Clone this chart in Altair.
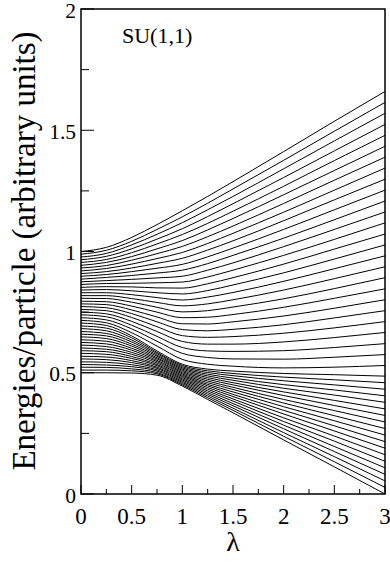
import altair as alt
import pandas as pd

# control parameter samples
LAMBDA = [0.0, 0.25, 0.5, 0.75, 1.0, 1.25, 1.5, 2.0, 2.5, 3.0]

# energies/particle of the 45 levels (lowest first) read at each lambda
E_000 = [0.500, 0.511, 0.523, 0.534, 0.545, 0.557, 0.568, 0.580, 0.591, 0.602,
         0.614, 0.625, 0.636, 0.648, 0.659, 0.670, 0.682, 0.693, 0.705, 0.716,
         0.727, 0.739, 0.750, 0.761, 0.773, 0.784, 0.795, 0.807, 0.818, 0.830,
         0.841, 0.852, 0.864, 0.875, 0.886, 0.898, 0.909, 0.920, 0.932, 0.943,
         0.955, 0.966, 0.977, 0.989, 1.000]
E_025 = [0.500, 0.511, 0.522, 0.532, 0.543, 0.554, 0.565, 0.576, 0.587, 0.597,
         0.608, 0.619, 0.630, 0.641, 0.652, 0.662, 0.673, 0.684, 0.695, 0.706,
         0.718, 0.731, 0.743, 0.756, 0.768, 0.781, 0.793, 0.806, 0.818, 0.830,
         0.843, 0.855, 0.868, 0.880, 0.893, 0.905, 0.917, 0.930, 0.942, 0.955,
         0.967, 0.980, 0.992, 1.005, 1.017]
E_050 = [0.499, 0.508, 0.516, 0.525, 0.533, 0.542, 0.550, 0.559, 0.567, 0.576,
         0.584, 0.593, 0.601, 0.610, 0.618, 0.627, 0.635, 0.644, 0.652, 0.665,
         0.681, 0.696, 0.712, 0.728, 0.744, 0.759, 0.775, 0.791, 0.806, 0.822,
         0.838, 0.854, 0.869, 0.885, 0.901, 0.917, 0.932, 0.948, 0.964, 0.979,
         0.995, 1.011, 1.027, 1.042, 1.058]
E_075 = [0.490, 0.496, 0.501, 0.507, 0.512, 0.518, 0.523, 0.529, 0.534, 0.540,
         0.546, 0.551, 0.557, 0.562, 0.568, 0.573, 0.579, 0.584, 0.590, 0.610,
         0.630, 0.650, 0.670, 0.690, 0.710, 0.730, 0.750, 0.770, 0.790, 0.810,
         0.830, 0.850, 0.871, 0.891, 0.911, 0.931, 0.951, 0.971, 0.991, 1.011,
         1.031, 1.051, 1.071, 1.091, 1.111]
E_100 = [0.445, 0.450, 0.455, 0.460, 0.465, 0.470, 0.475, 0.480, 0.485, 0.490,
         0.495, 0.500, 0.505, 0.510, 0.515, 0.520, 0.525, 0.530, 0.535, 0.555,
         0.580, 0.604, 0.629, 0.653, 0.678, 0.702, 0.727, 0.751, 0.776, 0.800,
         0.825, 0.849, 0.874, 0.898, 0.923, 0.947, 0.972, 0.996, 1.021, 1.045,
         1.070, 1.094, 1.119, 1.143, 1.168]
E_125 = [0.390, 0.397, 0.404, 0.411, 0.418, 0.425, 0.432, 0.439, 0.446, 0.452,
         0.459, 0.466, 0.473, 0.480, 0.487, 0.494, 0.501, 0.508, 0.515, 0.535,
         0.563, 0.590, 0.618, 0.646, 0.673, 0.701, 0.729, 0.756, 0.784, 0.812,
         0.839, 0.867, 0.895, 0.923, 0.950, 0.978, 1.006, 1.033, 1.061, 1.089,
         1.116, 1.144, 1.172, 1.199, 1.227]
E_150 = [0.335, 0.345, 0.354, 0.364, 0.373, 0.383, 0.392, 0.402, 0.411, 0.421,
         0.431, 0.440, 0.450, 0.459, 0.469, 0.478, 0.488, 0.497, 0.507, 0.527,
         0.557, 0.588, 0.618, 0.649, 0.679, 0.710, 0.740, 0.771, 0.801, 0.831,
         0.862, 0.892, 0.923, 0.953, 0.984, 1.014, 1.044, 1.075, 1.105, 1.136,
         1.166, 1.197, 1.227, 1.258, 1.288]
E_200 = [0.223, 0.238, 0.253, 0.269, 0.284, 0.299, 0.314, 0.330, 0.345, 0.360,
         0.375, 0.390, 0.406, 0.421, 0.436, 0.451, 0.467, 0.482, 0.497, 0.520,
         0.556, 0.591, 0.627, 0.663, 0.698, 0.734, 0.770, 0.805, 0.841, 0.877,
         0.912, 0.948, 0.984, 1.020, 1.055, 1.091, 1.127, 1.162, 1.198, 1.234,
         1.269, 1.305, 1.341, 1.376, 1.412]
E_250 = [0.112, 0.133, 0.154, 0.175, 0.196, 0.218, 0.239, 0.260, 0.281, 0.302,
         0.323, 0.344, 0.365, 0.386, 0.408, 0.429, 0.450, 0.471, 0.492, 0.523,
         0.564, 0.604, 0.645, 0.685, 0.726, 0.766, 0.807, 0.847, 0.888, 0.929,
         0.969, 1.010, 1.050, 1.091, 1.131, 1.172, 1.213, 1.253, 1.294, 1.334,
         1.375, 1.415, 1.456, 1.496, 1.537]
E_300 = [0.000, 0.027, 0.054, 0.081, 0.108, 0.135, 0.162, 0.189, 0.216, 0.243,
         0.270, 0.297, 0.324, 0.351, 0.378, 0.405, 0.432, 0.459, 0.486, 0.530,
         0.575, 0.620, 0.666, 0.711, 0.756, 0.801, 0.846, 0.892, 0.937, 0.982,
         1.027, 1.072, 1.118, 1.163, 1.208, 1.253, 1.298, 1.344, 1.389, 1.434,
         1.479, 1.524, 1.570, 1.615, 1.660]
COLUMNS = [E_000, E_025, E_050, E_075, E_100, E_125, E_150, E_200, E_250, E_300]

X_MAJOR = [0, 0.5, 1, 1.5, 2, 2.5, 3]
X_LABELS = ["0", "0.5", "1", "1.5", "2", "2.5", "3"]
X_MINOR = [0.25, 0.75, 1.25, 1.75, 2.25, 2.75]
Y_MAJOR = [0, 0.5, 1, 1.5, 2]
Y_LABELS = ["0", "0.5", "1", "1.5", "2"]
Y_MINOR = [0.25, 0.75, 1.25, 1.75]
X_TITLE = "λ"
Y_TITLE = "Energies/particle (arbitrary units)"
LABEL = "SU(1,1)"

rows = []
for lam, col in zip(LAMBDA, COLUMNS):
    for k, e in enumerate(col):
        rows.append({"lam": lam, "e": e, "level": k})
df = pd.DataFrame(rows)

W, H = 304, 485
FONT = "Liberation Serif"
xs = alt.Scale(domain=[0, 3], nice=False, zero=False)
ys = alt.Scale(domain=[0, 2], nice=False, zero=False)

lines = alt.Chart(df).mark_line(color="black", strokeWidth=1, interpolate="monotone").encode(
    x=alt.X("lam:Q", scale=xs, axis=None),
    y=alt.Y("e:Q", scale=ys, axis=None),
    detail="level:N",
)

def xticks(vals, length):
    return alt.Chart(pd.DataFrame({"t": vals})).mark_rule(color="black", strokeWidth=1).encode(
        x=alt.X("t:Q", scale=xs, axis=None), y=alt.value(H), y2=alt.value(H - length))

def yticks(vals, length):
    return alt.Chart(pd.DataFrame({"t": vals})).mark_rule(color="black", strokeWidth=1).encode(
        y=alt.Y("t:Q", scale=ys, axis=None), x=alt.value(0), x2=alt.value(length))

xlab = alt.Chart(pd.DataFrame({"t": X_MAJOR, "s": X_LABELS})).mark_text(
    align="center", baseline="top", font=FONT, fontSize=23, color="black").encode(
    x=alt.X("t:Q", scale=xs, axis=None), y=alt.value(H + 12), text="s:N")

ylab = alt.Chart(pd.DataFrame({"t": Y_MAJOR, "s": Y_LABELS})).mark_text(
    align="right", baseline="middle", font=FONT, fontSize=21.5, color="black", dy=2.5).encode(
    y=alt.Y("t:Q", scale=ys, axis=None), x=alt.value(-5), text="s:N")

xtitle = alt.Chart(pd.DataFrame({"s": [X_TITLE]})).mark_text(
    align="center", baseline="middle", font=FONT, fontSize=28, color="black").encode(
    x=alt.value(152), y=alt.value(H + 49), text="s:N")

ytitle = alt.Chart(pd.DataFrame({"s": [Y_TITLE]})).mark_text(
    align="center", baseline="middle", font=FONT, fontSize=33, color="black", angle=270).encode(
    x=alt.value(-56), y=alt.value(242), text="s:N")

label = alt.Chart(pd.DataFrame({"s": [LABEL]})).mark_text(
    align="left", baseline="alphabetic", font=FONT, fontSize=22, color="black").encode(
    x=alt.value(41), y=alt.value(34), text="s:N")

chart = alt.layer(
    lines, xticks(X_MAJOR, 9), xticks(X_MINOR, 5), yticks(Y_MAJOR, 13), yticks(Y_MINOR, 8),
    xlab, ylab, xtitle, ytitle, label
).properties(
    width=W, height=H, background="white",
    padding={"left": 81, "top": 9, "right": 5, "bottom": 69},
    autosize=alt.AutoSizeParams(type="none"),
).configure_view(stroke="black", strokeWidth=1.5)

chart.save("out.html", embed_options={"renderer": "svg", "actions": False})
